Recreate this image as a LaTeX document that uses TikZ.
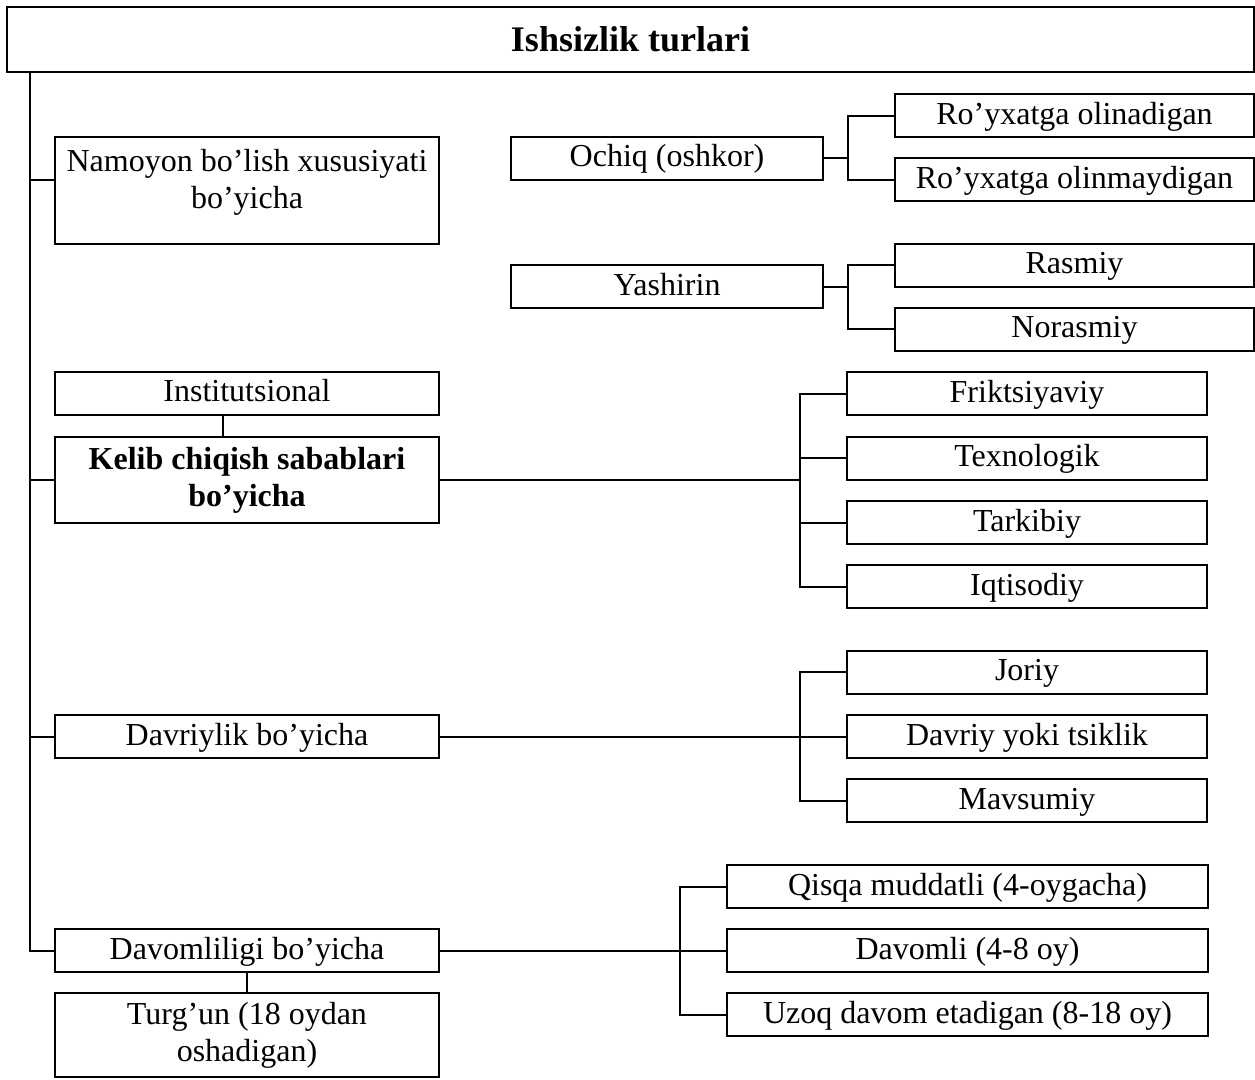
\documentclass[tikz,border=0pt]{standalone}
\usepackage{fontspec}
\setmainfont{Liberation Serif}
\usetikzlibrary{positioning, calc}
\newcommand{\boxfont}{\fontsize{32}{37}\selectfont}
\newcommand{\headfont}{\fontsize{36}{40}\selectfont\bfseries}

\begin{document}
\begin{tikzpicture}[x=1pt, y=-1pt,
    frame/.style={draw, line width=2pt, inner sep=0pt, font=\boxfont},
    box/.style={frame, minimum height=43pt, text height=24pt, text depth=7pt},
    tall/.style={frame, minimum width=384pt, align=center},
    link/.style={line width=2pt}
  ]
  \useasboundingbox (0,0) rectangle (1255,1079);

  \node[frame, minimum width=1247pt, minimum height=65pt, font=\headfont] (title) at (630.5,39.5) {Ishsizlik turlari};
  \coordinate (trunk) at ($(title.south west)+(24,0)$);

  % left column
  \node[tall, minimum height=107pt] (namo) at (247,190.5) {Namoyon bo’lish xususiyati\\ bo’yicha\rule[-23pt]{0pt}{1pt}};
  \node[box, minimum width=384pt] (inst) at (247,393) {Institutsional};
  \node[tall, minimum height=86pt, font=\boxfont\bfseries] (kelib) at (247,480) {Kelib chiqish sabablari\\ bo’yicha};
  \node[box, minimum width=384pt] (davr) at (247,736.5) {Davriylik bo’yicha};
  \node[box, minimum width=384pt] (davom) at (247,950.5) {Davomliligi bo’yicha};
  \node[tall, minimum height=84pt] (turg) at (247,1035) {Turg’un (18 oydan\\ oshadigan)};

  % right side
  \foreach \name/\y/\txt in {ochiq/158/Ochiq (oshkor), yash/286.5/Yashirin}
    \node[box, minimum width=312pt] (\name) at (667,\y) {\txt};
  \foreach \name/\y/\txt in {royx/115.5/Ro’yxatga olinadigan, royxn/179.5/Ro’yxatga olinmaydigan,
                             rasm/265/Rasmiy, noras/329/Norasmiy}
    \node[box, minimum width=359pt] (\name) at (1074.5,\y) {\txt};
  \foreach \name/\y/\txt in {frik/393.5/Friktsiyaviy, texn/458/Texnologik, tark/522.5/Tarkibiy,
                             iqti/586.5/Iqtisodiy, jori/672/Joriy, dayo/736.5/Davriy yoki tsiklik,
                             mavs/800.5/Mavsumiy}
    \node[box, minimum width=360pt] (\name) at (1027,\y) {\txt};
  \foreach \name/\y/\txt in {qisq/886.5/Qisqa muddatli (4-oygacha), davm/950.5/Davomli (4-8 oy),
                             uzoq/1014.5/Uzoq davom etadigan (8-18 oy)}
    \node[box, minimum width=481pt] (\name) at (967.5,\y) {\txt};

  % connectors
  \coordinate (namoin) at ($(namo.west)+(0,-10.5)$);
  \draw[link] (trunk) |- (davom.west);
  \draw[link] (trunk |- namoin) -- (namoin);
  \foreach \b in {kelib, davr} \draw[link] (trunk |- \b.west) -- (\b.west);
  \draw[link] ($(inst.south)+(-24,0)$) -- ($(kelib.north)+(-24,0)$);
  \draw[link] (davom.south) -- (turg.north);

  \foreach \b in {royx, royxn} \draw[link] (ochiq.east) -- ++(24,0) |- (\b.west);
  \foreach \b in {rasm, noras} \draw[link] (yash.east) -- ++(24,0) |- (\b.west);
  \foreach \b in {frik, texn, tark, iqti} \draw[link] (kelib.east) -- ++(360,0) |- (\b.west);
  \foreach \b in {jori, dayo, mavs} \draw[link] (davr.east) -- ++(360,0) |- (\b.west);
  \foreach \b in {qisq, davm, uzoq} \draw[link] (davom.east) -- ++(240,0) |- (\b.west);
\end{tikzpicture}
\end{document}
